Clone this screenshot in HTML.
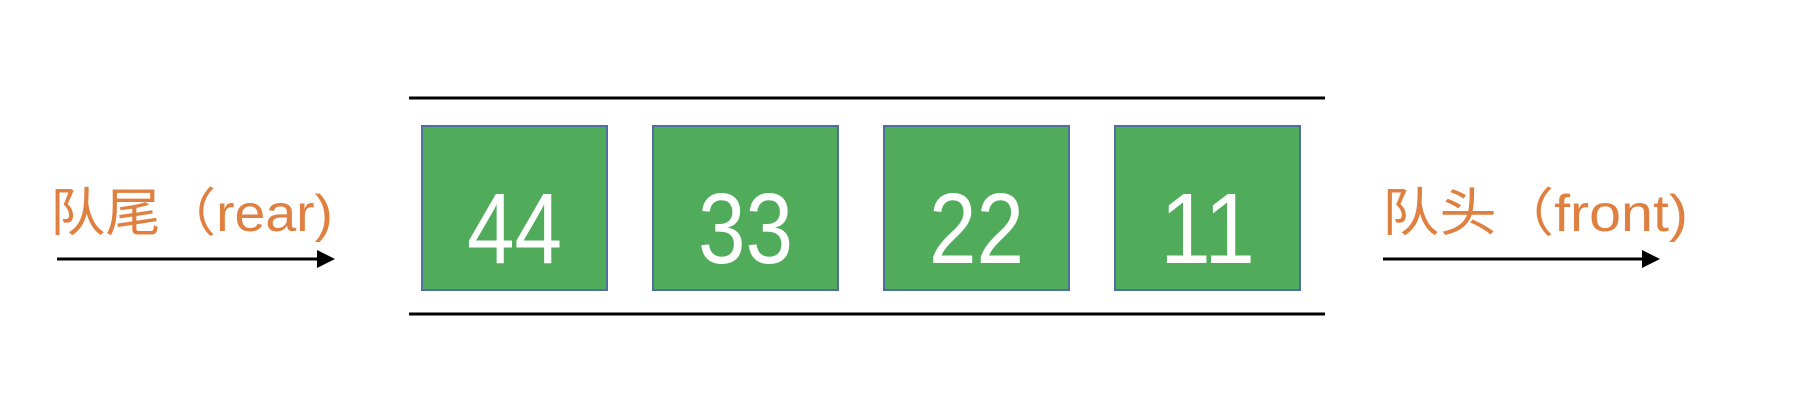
<!DOCTYPE html>
<html><head><meta charset="utf-8"><style>
html,body{margin:0;padding:0;background:#fff;width:1798px;height:404px;overflow:hidden}
svg{display:block}
</style></head><body>
<svg id="chart" width="1798" height="404" viewBox="0 0 1798 404" xmlns="http://www.w3.org/2000/svg">
<line x1="409" y1="98" x2="1325" y2="98" stroke="#000" stroke-width="3"/>
<line x1="409" y1="314" x2="1325" y2="314" stroke="#000" stroke-width="3"/>
<g id="boxes"></g>
<text x="50" y="231" font-family="Liberation Sans, Noto Sans CJK SC, sans-serif" font-size="52" fill="#E08040" textLength="283" lengthAdjust="spacingAndGlyphs">队尾（rear)</text>
<line x1="57" y1="259" x2="320" y2="259" stroke="#000" stroke-width="3"/>
<polygon points="317,250 335,259 317,268" fill="#000"/>
<text x="1382" y="231" font-family="Liberation Sans, Noto Sans CJK SC, sans-serif" font-size="52" fill="#E08040" textLength="306" lengthAdjust="spacingAndGlyphs">队头（front)</text>
<line x1="1383" y1="259" x2="1645" y2="259" stroke="#000" stroke-width="3"/>
<polygon points="1642,250 1660,259 1642,268" fill="#000"/>
</svg>
<script>
const values = [44, 33, 22, 11];
const g = document.getElementById('boxes');
const ns = 'http://www.w3.org/2000/svg';
const x0 = 422, bw = 185, gap = 231;
values.forEach((v, i) => {
  const x = x0 + i * gap;
  const r = document.createElementNS(ns, 'rect');
  r.setAttribute('x', x); r.setAttribute('y', 126);
  r.setAttribute('width', bw); r.setAttribute('height', 164);
  r.setAttribute('fill', '#50AC5A'); r.setAttribute('stroke', '#4F6FA0'); r.setAttribute('stroke-width', '2');
  
  
  g.appendChild(r);
  const t = document.createElementNS(ns, 'text');
  t.setAttribute('x', x + bw / 2); t.setAttribute('y', 263);
  t.setAttribute('text-anchor', 'middle');
  t.setAttribute('font-family', 'Liberation Sans, sans-serif');
  t.setAttribute('font-size', '100'); t.setAttribute('fill', '#fff');
  t.setAttribute('textLength', '95'); t.setAttribute('lengthAdjust', 'spacingAndGlyphs');
  t.textContent = v;
  
  
  g.appendChild(t);
});
</script>
</body></html>
